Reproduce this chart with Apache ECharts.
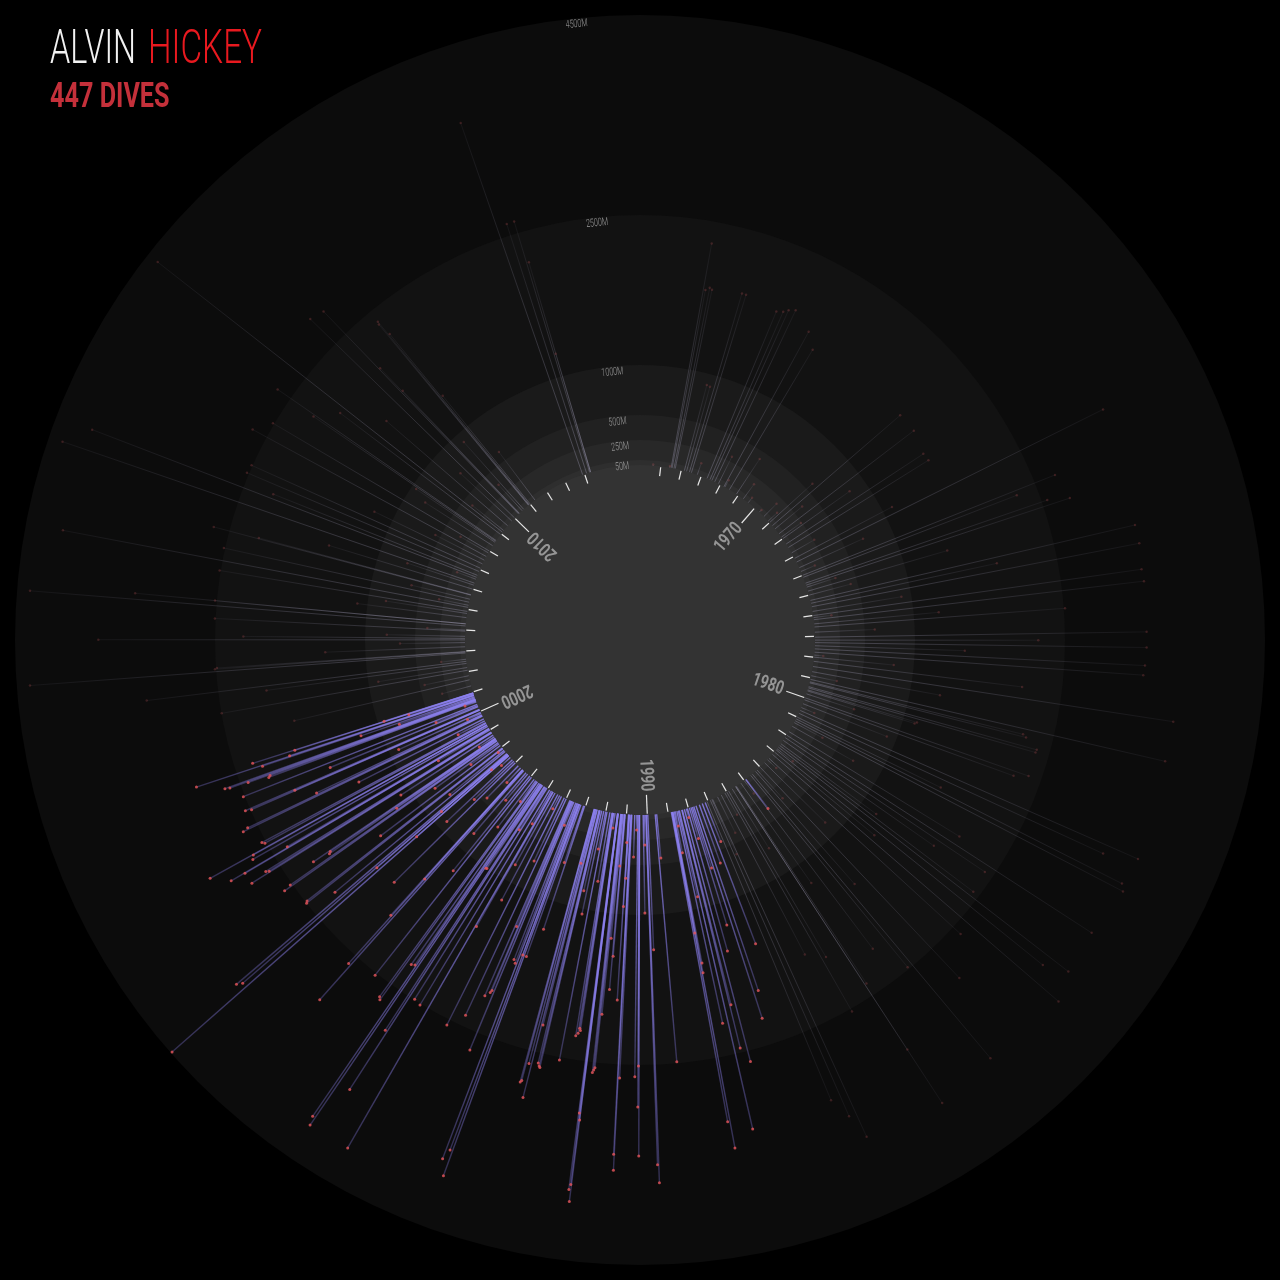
<!DOCTYPE html>
<html><head><meta charset="utf-8">
<script src="https://cdn.jsdelivr.net/npm/echarts@6/dist/echarts.min.js"></script>
<style>html,body{margin:0;padding:0;background:#000;}#chart{width:1280px;height:1280px;}</style>
</head><body><div id="chart"></div>
<script>
// ---------- data ----------
const yearMin = 1964, yearMax = 2016.7;
const depthMin = -1750, depthMax = 4500;
const ringDepths = [4500, 2500, 1000, 500, 250, 50, 0];
const ringLabels = ['4500M', '2500M', '1000M', '500M', '250M', '50M', ''];
const ringLabelYear = 2015.84;
const decadeYears = [1970, 1980, 1990, 2000, 2010];
const tickYears = [1965,1966,1967,1968,1969,1970,1971,1972,1973,1974,1975,1976,1977,1978,1979,1980,1981,1982,1983,1984,1985,1986,1987,1988,1989,1990,1991,1992,1993,1994,1995,1996,1997,1998,1999,2000,2001,2002,2003,2004,2005,2006,2007,2008,2009,2010,2011,2012,2013,2014];

// highlighted dives [year, depth m]
const highlightDives = [
[1984.9,366],
[1987.15,420],[1987.3,1500],[1987.45,620],
[1987.62,1948],[1987.73,2225],[1987.8,640],[1987.87,1230],[1987.95,320],[1988.05,1480],[1988.1,90],[1988.2,2608],[1988.3,2008],[1988.33,2450],[1988.45,3268],[1988.5,880],[1988.57,2170],[1988.65,150],[1988.7,420],[1988.78,1636],[1988.8,1230],[1988.76,1540],[1988.8,3417],[1988.84,3146],
[1989.55,440],[1989.62,2484],[1989.98,1350],
[1990.05,3680],[1990.07,3500],[1990.15,300],[1990.2,980],[1990.37,3410],[1990.39,2920],[1990.38,2510],[1990.45,2617],[1990.5,150],[1990.6,420],[1990.74,2635],[1990.77,3560],[1990.78,3400],[1990.85,637],[1990.87,920],[1990.88,1856],[1990.9,280],
[1991.06,1425],[1991.08,1758],[1991.1,520],[1991.16,1247],[1991.2,2013],[1991.23,2550],[1991.25,2575],[1991.27,2600],[1991.4,3087],[1991.42,3020],[1991.4,3910],[1991.41,3740],[1991.43,3790],[1991.55,150],[1991.62,2200],[1991.64,2180],[1991.66,2230],[1991.7,2260],[1991.8,700],[1991.94,2527],
[1992.0,380],[1992.1,1050],[1992.2,820],[1992.28,2640],[1992.3,2627],[1992.33,2600],[1992.42,2220],[1992.45,2973],[1992.5,2627],[1992.55,2810],[1992.57,2830],[1992.52,560],
[1993.05,1300],[1993.1,600],[1993.24,1613],[1993.3,3956],[1993.34,3693],[1993.34,1610],[1993.4,3800],[1993.44,1716],[1993.5,1685],[1993.6,250],[1993.65,2688],[1993.7,2055],[1993.72,2080],[1993.76,1370],[1993.8,2130],
[1994.0,2388],[1994.1,700],[1994.25,2557],[1994.35,150],[1994.45,1195],[1994.6,820],[1994.7,1550],[1994.73,4110],[1994.8,380],[1994.9,2512],
[1995.05,2490],[1995.1,500],[1995.16,3600],[1995.2,2910],[1995.3,1000],[1995.33,1004],[1995.36,4116],[1995.4,4030],[1995.43,2203],[1995.5,2220],[1995.6,2690],[1995.64,2666],[1995.7,260],[1995.8,600],[1995.96,2522],
[1996.06,1218],[1996.2,340],[1996.3,800],[1996.45,3067],[1996.5,2604],[1996.5,1467],[1996.52,1963],[1996.65,200],[1996.8,450],
[1997.0,1700],[1997.1,550],[1997.2,900],[1997.35,120],[1997.47,4485],[1997.47,1226],[1997.5,222],[1997.54,1730],[1997.55,873],[1997.55,3500],[1997.6,3555],[1997.73,2208],[1997.8,700],[1997.9,60],[1997.92,2498],[1997.95,2480],
[1998.1,1500],[1998.2,350],[1998.27,780],[1998.37,2600],[1998.4,2520],[1998.45,1208],[1998.47,2020],[1998.5,2000],[1998.52,2198],[1998.6,180],[1998.7,1100],[1998.83,2830],[1998.85,2620],[1998.88,2650],
[1999.0,600],[1999.05,2838],[1999.06,2995],[1999.08,2338],[1999.2,2700],[1999.27,2674],[1999.28,3165],[1999.36,2516],[1999.4,2540],[1999.5,300],[1999.6,1400],[1999.75,2656],[1999.78,2600],[1999.82,1828],[1999.9,150],[1999.95,900],
[2000.07,2489],[2000.08,2015],[2000.1,2550],[2000.25,1600],[2000.3,450],[2000.37,2515],[2000.5,120],[2000.55,2208],[2000.58,2190],[2000.6,2420],[2000.62,2610],[2000.64,2659],[2000.7,800],[2000.75,1200],[2000.82,2230],[2000.84,2923],[2000.85,1940],[2000.9,680],[2000.93,1874],[2000.94,2315],[2000.95,935]
];

// other dives [year, depth m]
const dives1960s = [[1964.63,10],[1965.43,16],[1965.5,2280],[1965.55,1810],[1965.64,1840],[1965.7,1826],[1966.15,886],[1966.26,878],[1966.4,1863],[1966.5,1861],[1966.8,120],[1967.3,1806],[1967.45,1832],[1967.55,1868],[1967.7,1896],[1967.9,300],[1968.2,1763],[1968.25,78],[1968.5,1628],[1968.9,420],[1969.3,180],[1969.6,60]];
const dives1970s = [[1970.3,30],[1970.6,178],[1970.9,120],[1971.0,577],[1971.2,1688],[1971.4,350],[1971.7,1697],[1971.9,240],[1972.0,820],[1972.3,1640],[1972.5,1649],[1972.8,260],[1973.1,1100],[1973.3,3423],[1973.6,700],[1973.8,150],[1974.0,2716],[1974.1,2286],[1974.4,2556],[1974.5,2777],[1974.6,300],[1974.8,1450],[1975.0,430],[1975.26,3332],[1975.4,1900],[1975.57,3336],[1975.8,900],[1976.0,3315],[1976.1,180],[1976.2,3324],[1976.4,1250],[1976.55,2512],[1976.8,600],[1977.04,3317],[1977.18,2233],[1977.3,3317],[1977.45,1500],[1977.6,3306],[1977.76,3295],[1977.9,90],[1978.0,800],[1978.2,2100],[1978.45,3645],[1978.7,1300],[1978.9,260],[1979.08,3640],[1979.2,2195],[1979.25,2232],[1979.44,2367],[1979.5,2362],[1979.6,1140],[1979.65,1120],[1979.8,500]];
const dives1980s = [[1980.0,2367],[1980.1,2225],[1980.3,900],[1980.5,140],[1980.65,3690],[1980.8,3350],[1981.0,1600],[1981.1,3650],[1981.2,3695],[1981.3,320],[1981.5,700],[1981.8,2000],[1982.0,3633],[1982.14,2406],[1982.3,1838],[1982.5,1184],[1982.6,2427],[1982.7,3667],[1982.8,200],[1982.87,3427],[1983.0,1300],[1983.15,3780],[1983.4,2600],[1983.5,120],[1983.7,850],[1984.0,2900],[1984.2,380],[1984.3,1500],[1984.5,3706],[1984.6,2477],[1984.93,2116],[1985.0,160],[1985.2,1223],[1985.46,2364],[1985.5,3779],[1985.5,3141],[1985.7,700],[1985.9,1926],[1986.0,2527],[1986.1,250],[1986.3,1800],[1986.5,400],[1986.76,3710],[1986.8,600],[1986.88,3450],[1987.05,3233]];
const dives2000s = [[2001.3,300],[2001.6,1800],[2001.8,450],[2002.07,2497],[2002.2,900],[2002.4,2019],[2002.5,3220],[2002.6,250],[2002.9,4367],[2002.95,2511],[2002.97,2490],[2003.2,1400],[2003.4,650],[2003.53,3667],[2003.6,2217],[2003.7,783],[2003.95,2507],[2004.0,380],[2004.2,4370],[2004.3,3320],[2004.3,2518],[2004.6,1100],[2004.8,820],[2004.9,2511],[2005.1,4124],[2005.2,300],[2005.35,2512],[2005.5,600],[2005.7,2660],[2005.72,2196],[2006.0,1500],[2006.2,700],[2006.3,4356],[2006.5,200],[2006.6,4118],[2006.7,2197],[2006.9,2522],[2007.07,2509],[2007.3,1200],[2007.5,550],[2007.7,2659],[2007.9,320],[2008.0,2513],[2008.3,800],[2008.5,950],[2008.56,2207],[2008.6,2656],[2008.96,2010],[2009.1,4378],[2009.2,400],[2009.5,1600],[2009.8,700]];
const dives2010s = [[2010.0,2852],[2010.27,2812],[2010.3,2010],[2010.32,1692],[2010.5,350],[2010.6,900],[2010.9,2345],[2010.92,2373],[2010.95,2204],[2011.0,1389],[2011.3,600],[2013.9,3722],[2014.1,2619],[2014.25,2621],[2014.3,1235],[2014.3,2187]];

// ---------- styles ----------
const ringFills = ['#0c0c0c','#121212','#1a1a1a','#212121','#282828','#2e2e2e','#333333'];
const FONT = 'Roboto, "Noto Sans", sans-serif';

const otherDives = [].concat(dives1960s, dives1970s, dives1980s, dives2000s, dives2010s);
const toPolar = arr => arr.map(d => [d[1], d[0]]); // [radius(depth), angle(year)]

function lineRenderer(c0, c1, width) {
  return function (params, api) {
    const depth = api.value(0), year = api.value(1);
    const p0 = api.coord([0, year]);
    const p1 = api.coord([depth, year]);
    return {
      type: 'line', silent: true,
      shape: { x1: p0[0], y1: p0[1], x2: p1[0], y2: p1[1] },
      style: {
        stroke: new echarts.graphic.LinearGradient(p0[0], p0[1], p1[0], p1[1],
          [{ offset: 0, color: c0 }, { offset: 1, color: c1 }], true),
        lineWidth: width
      }
    };
  };
}

const chart = echarts.init(document.getElementById('chart'));
chart.setOption({
  backgroundColor: '#000',
  animation: false,
  polar: { center: ['50%', '50%'], radius: 625 },
  angleAxis: { type: 'value', min: yearMin, max: yearMax, startAngle: 90, clockwise: true, show: false },
  radiusAxis: { type: 'value', min: depthMin, max: depthMax, show: false },
  graphic: [
    { type: 'text', x: 50, y: 51, scaleX: 0.66, style: { text: 'ALVIN', fill: '#f2f2f2', fontSize: 49, fontWeight: 300, fontFamily: FONT, verticalAlign: 'middle' } },
    { type: 'text', x: 148, y: 51, scaleX: 0.68, style: { text: 'HICKEY', fill: '#e8191f', fontSize: 49, fontWeight: 300, fontFamily: FONT, verticalAlign: 'middle' } },
    { type: 'text', x: 50, y: 98, scaleX: 0.72, style: { text: '447 DIVES', fill: '#c4303a', fontSize: 35, fontWeight: 'bold', fontFamily: FONT, verticalAlign: 'middle' } }
  ],
  series: [
    { // background rings
      type: 'custom', coordinateSystem: 'polar', silent: true, z: 0,
      data: ringDepths.map((d, i) => [d, yearMin, i]),
      renderItem: (params, api) => {
        const c = api.coord([depthMin, yearMin]);
        const p = api.coord([api.value(0), yearMin]);
        const r = Math.hypot(p[0] - c[0], p[1] - c[1]);
        return { type: 'circle', shape: { cx: c[0], cy: c[1], r: r }, style: { fill: ringFills[api.value(2)] } };
      }
    },
    { // other dives
      type: 'custom', coordinateSystem: 'polar', silent: true, z: 1,
      data: toPolar(otherDives),
      renderItem: lineRenderer('rgba(195,190,225,0.28)', 'rgba(195,190,225,0.05)', 1)
    },
    { // highlighted dives
      type: 'custom', coordinateSystem: 'polar', silent: true, z: 2,
      data: toPolar(highlightDives),
      renderItem: lineRenderer('rgba(140,128,240,0.85)', 'rgba(140,128,240,0.3)', 1.4)
    },
    {
      type: 'scatter', coordinateSystem: 'polar', silent: true, z: 3,
      data: toPolar(otherDives), symbolSize: 2.5,
      itemStyle: { color: 'rgba(215,90,95,0.28)' }
    },
    {
      type: 'scatter', coordinateSystem: 'polar', silent: true, z: 4,
      data: toPolar(highlightDives), symbolSize: 3,
      itemStyle: { color: '#e8555a' }
    },
    { // year ticks
      type: 'custom', coordinateSystem: 'polar', silent: true, z: 5,
      data: tickYears.map(y => [0, y]),
      renderItem: (params, api) => {
        const y = api.value(1);
        const inner = (y % 10 === 0) ? -200 : -100;
        const p0 = api.coord([inner, y]);
        const p1 = api.coord([-10, y]);
        return { type: 'line', shape: { x1: p0[0], y1: p0[1], x2: p1[0], y2: p1[1] }, style: { stroke: '#e6e6e6', lineWidth: 1.2 } };
      }
    },
    { // decade labels
      type: 'custom', coordinateSystem: 'polar', silent: true, z: 5,
      data: decadeYears.map(y => [-235, y]),
      renderItem: (params, api) => {
        const y = api.value(1);
        const c = api.coord([depthMin, y]);
        const p = api.coord([api.value(0), y]);
        const vx = p[0] - c[0], vy = p[1] - c[1];
        return {
          type: 'text', x: p[0], y: p[1], rotation: Math.atan2(-vy, vx), scaleX: 0.74,
          style: { text: String(y), fill: '#959595', fontSize: 19, fontWeight: 'bold', fontFamily: FONT, align: 'right', verticalAlign: 'middle' }
        };
      }
    },
    { // ring labels
      type: 'custom', coordinateSystem: 'polar', silent: true, z: 5,
      data: ringDepths.map((d, i) => [d - 60, ringLabelYear, i]),
      renderItem: (params, api) => {
        const label = ringLabels[api.value(2)];
        if (!label) return null;
        const c = api.coord([depthMin, ringLabelYear]);
        const p = api.coord([api.value(0), ringLabelYear]);
        const vx = p[0] - c[0], vy = p[1] - c[1];
        return {
          type: 'text', x: p[0], y: p[1], rotation: Math.atan2(-vx, -vy), scaleX: 0.65,
          style: { text: label, fill: '#9a9a9a', fontSize: 11, fontWeight: 300, fontFamily: FONT, align: 'center', verticalAlign: 'middle' }
        };
      }
    }
  ]
});
</script>
</body></html>
